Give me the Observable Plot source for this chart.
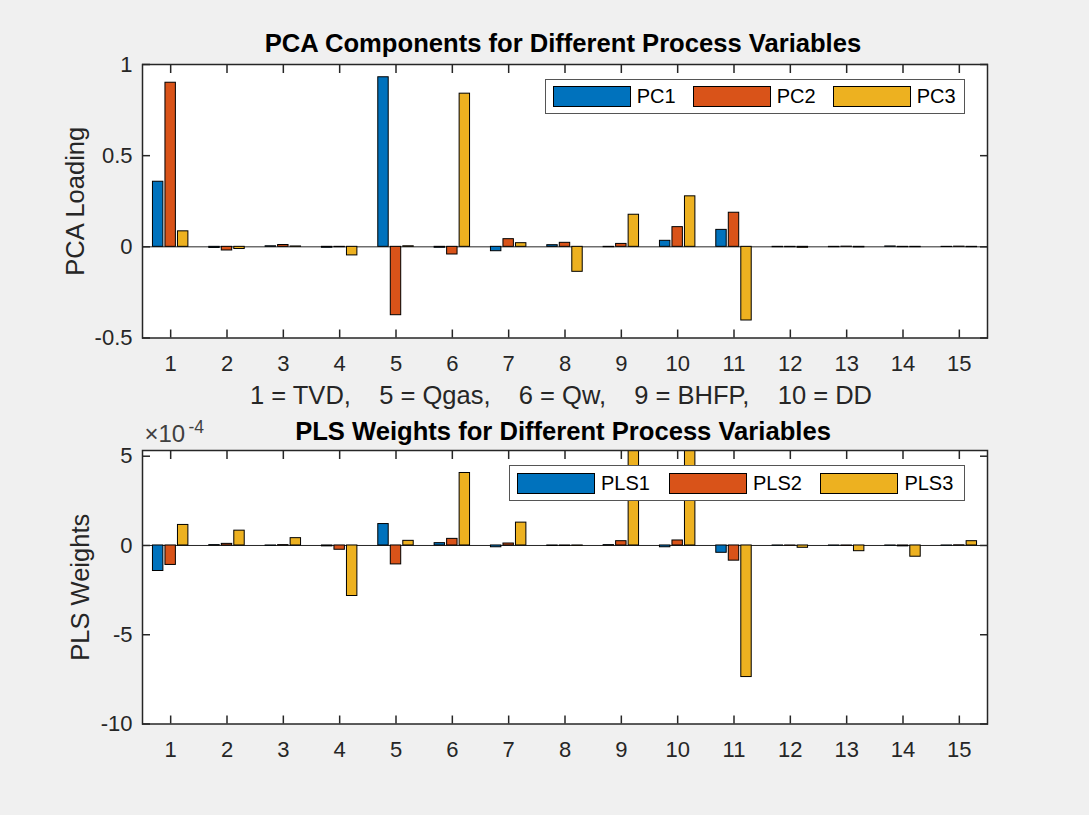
<!DOCTYPE html>
<html><head><meta charset="utf-8">
<script src="https://cdn.jsdelivr.net/npm/d3@7"></script>
<script src="https://cdn.jsdelivr.net/npm/@observablehq/plot@0.6"></script>
<style>
body{margin:0;background:#f0f0f0;}
#fig{position:relative;width:1089px;height:815px;background:#f0f0f0;font-family:"Liberation Sans",Arial,sans-serif;overflow:hidden}
#fig svg{position:absolute;left:0;}
.legend{position:absolute;background:#fff;border:1px solid #555;box-sizing:border-box;}
.sw{position:absolute;width:78px;height:21px;border:1px solid #000;box-sizing:border-box}
.lt{position:absolute;font-size:20px;color:#000;line-height:21px;white-space:nowrap}
</style></head><body><div id="fig"></div>
<script>
// ---- data ----
const variables = [1,2,3,4,5,6,7,8,9,10,11,12,13,14,15];
const pcaSeries = ["PC1","PC2","PC3"];
const pc1 = [0.357,-0.006,0.003,-0.005,0.930,-0.005,-0.024,0.009,-0.002,0.033,0.093,-0.002,-0.002,0.002,-0.001];
const pc2 = [0.900,-0.020,0.010,-0.002,-0.375,-0.042,0.042,0.022,0.016,0.108,0.187,-0.002,0.001,-0.002,0.001];
const pc3 = [0.085,-0.012,0.002,-0.047,0.003,0.840,0.020,-0.137,0.176,0.277,-0.404,-0.005,-0.003,-0.002,-0.002];
const plsSeries = ["PLS1","PLS2","PLS3"];
const pls1 = [-1.43e-4,0.02e-4,-0.02e-4,-0.05e-4,1.20e-4,0.13e-4,-0.10e-4,-0.03e-4,0.02e-4,-0.10e-4,-0.41e-4,-0.01e-4,-0.01e-4,-0.01e-4,-0.01e-4];
const pls2 = [-1.09e-4,0.09e-4,0.02e-4,-0.24e-4,-1.06e-4,0.37e-4,0.11e-4,-0.03e-4,0.24e-4,0.28e-4,-0.85e-4,-0.01e-4,-0.02e-4,-0.05e-4,0.01e-4];
const pls3 = [1.15e-4,0.83e-4,0.41e-4,-2.83e-4,0.26e-4,4.06e-4,1.28e-4,-0.02e-4,6.2e-4,7.5e-4,-7.37e-4,-0.13e-4,-0.32e-4,-0.63e-4,0.24e-4];
const pcaTicks = [-0.5,0,0.5,1];
const plsTicks = [-10e-4,-5e-4,0,5e-4];
const pcaTitle = "PCA Components for Different Process Variables";
const plsTitle = "PLS Weights for Different Process Variables";
const pcaYLabel = "PCA Loading";
const plsYLabel = "PLS Weights";
const pcaXLabel = "1 = TVD,\u00a0\u00a0\u00a0\u00a05 = Qgas,\u00a0\u00a0\u00a0\u00a06 = Qw,\u00a0\u00a0\u00a0\u00a09 = BHFP,\u00a0\u00a0\u00a0\u00a010 = DD";
const colors = ["#0072BD","#D95319","#EDB120"];

const FONT = '"Liberation Sans", Arial, sans-serif';
const barStep = 0.222, barWidth = 0.185;

function panel({series, values, yDomain, yTicks, yFmt, height, mt, mb, title, titleDy, ylabel, ylabelDx, xlabel, extra = []}) {
  const rows = [];
  series.forEach((s, j) => values[j].forEach((v, i) => rows.push({cat: variables[i], s, j, v})));
  return Plot.plot({
    width: 1089, height,
    marginLeft: 142, marginRight: 102, marginTop: mt, marginBottom: mb,
    style: {background: "transparent", fontFamily: FONT, fontSize: "22px", color: "#262626", overflow: "visible"},
    x: {domain: [0.5, 15.5], label: null},
    y: {domain: yDomain, label: null},
    color: {domain: series, range: colors},
    marks: [
      Plot.frame({fill: "white", stroke: null}),
      Plot.ruleY([0], {stroke: "#262626", strokeWidth: 1}),
      Plot.rect(rows, {
        x1: d => d.cat + (d.j - 1) * barStep - barWidth / 2,
        x2: d => d.cat + (d.j - 1) * barStep + barWidth / 2,
        y1: 0, y2: "v", fill: "s", stroke: "#000", strokeWidth: 1, clip: true
      }),
      Plot.frame({stroke: "#262626", strokeWidth: 1.5}),
      Plot.axisX({ticks: variables, anchor: "bottom", tickSize: -8, tickPadding: 25.5, tickFormat: d => String(d), strokeWidth: 1.5}),
      Plot.axisX({ticks: variables, anchor: "top", tickSize: -8, tickFormat: () => "", strokeWidth: 1.5}),
      Plot.axisY({ticks: yTicks, anchor: "left", tickSize: -8, tickPadding: 18, tickFormat: yFmt, strokeWidth: 1.5}),
      Plot.axisY({ticks: yTicks, anchor: "right", tickSize: -8, tickFormat: () => "", strokeWidth: 1.5}),
      Plot.text([title], {frameAnchor: "top", dx: -2, dy: titleDy, fontWeight: "bold", fontSize: 25.6, fill: "#000", textAnchor: "middle", lineAnchor: "middle"}),
      Plot.text([ylabel], {frameAnchor: "left", rotate: -90, dx: ylabelDx, fontSize: 25.5, fill: "#262626", textAnchor: "middle", lineAnchor: "middle"}),
      ...(xlabel ? [Plot.text([xlabel], {frameAnchor: "bottom", dx: -4, dy: 57.5, fontSize: 25.5, fill: "#262626", textAnchor: "middle", lineAnchor: "middle"})] : []),
      ...extra
    ]
  });
}

const fig = document.getElementById("fig");

const topPanel = panel({
  series: pcaSeries, values: [pc1, pc2, pc3], yDomain: [-0.5, 1], yTicks: pcaTicks,
  yFmt: d => String(d), height: 420, mt: 64, mb: 82.5,
  title: pcaTitle, titleDy: -20.7, ylabel: pcaYLabel, ylabelDx: -67, xlabel: pcaXLabel
});
topPanel.style.top = "0px";
fig.appendChild(topPanel);

const bottomPanel = panel({
  series: plsSeries, values: [pls1, pls2, pls3], yDomain: [-10e-4, 5.32e-4], yTicks: plsTicks,
  yFmt: d => String(Math.round(d * 1e4)), height: 395, mt: 30, mb: 91.5,
  title: plsTitle, titleDy: -19, ylabel: plsYLabel, ylabelDx: -62,
  extra: [
    Plot.text(["\u00d710"], {frameAnchor: "top-left", dx: 2, dy: -16, fontSize: 24, fill: "#404040", textAnchor: "start", lineAnchor: "middle"}),
    Plot.text(["-4"], {frameAnchor: "top-left", dx: 46, dy: -23, fontSize: 17.5, fill: "#404040", textAnchor: "start", lineAnchor: "middle"})
  ]
});
bottomPanel.style.top = "420px";
fig.appendChild(bottomPanel);

function legend(names, box, swLefts, swTop) {
  const el = document.createElement("div");
  el.className = "legend";
  Object.assign(el.style, {left: box[0] + "px", top: box[1] + "px", width: box[2] + "px", height: box[3] + "px"});
  names.forEach((n, i) => {
    const sw = document.createElement("div");
    sw.className = "sw";
    Object.assign(sw.style, {left: swLefts[i] + "px", top: swTop + "px", background: colors[i]});
    el.appendChild(sw);
    const t = document.createElement("div");
    t.className = "lt";
    t.textContent = n;
    Object.assign(t.style, {left: (swLefts[i] + 84) + "px", top: swTop + "px"});
    el.appendChild(t);
  });
  fig.appendChild(el);
}
legend(pcaSeries, [545, 79, 420, 35], [6.7, 146.7, 286.7], 6);
legend(plsSeries, [509, 465, 456, 36], [7, 159, 310.4], 6.7);
</script></body></html>
